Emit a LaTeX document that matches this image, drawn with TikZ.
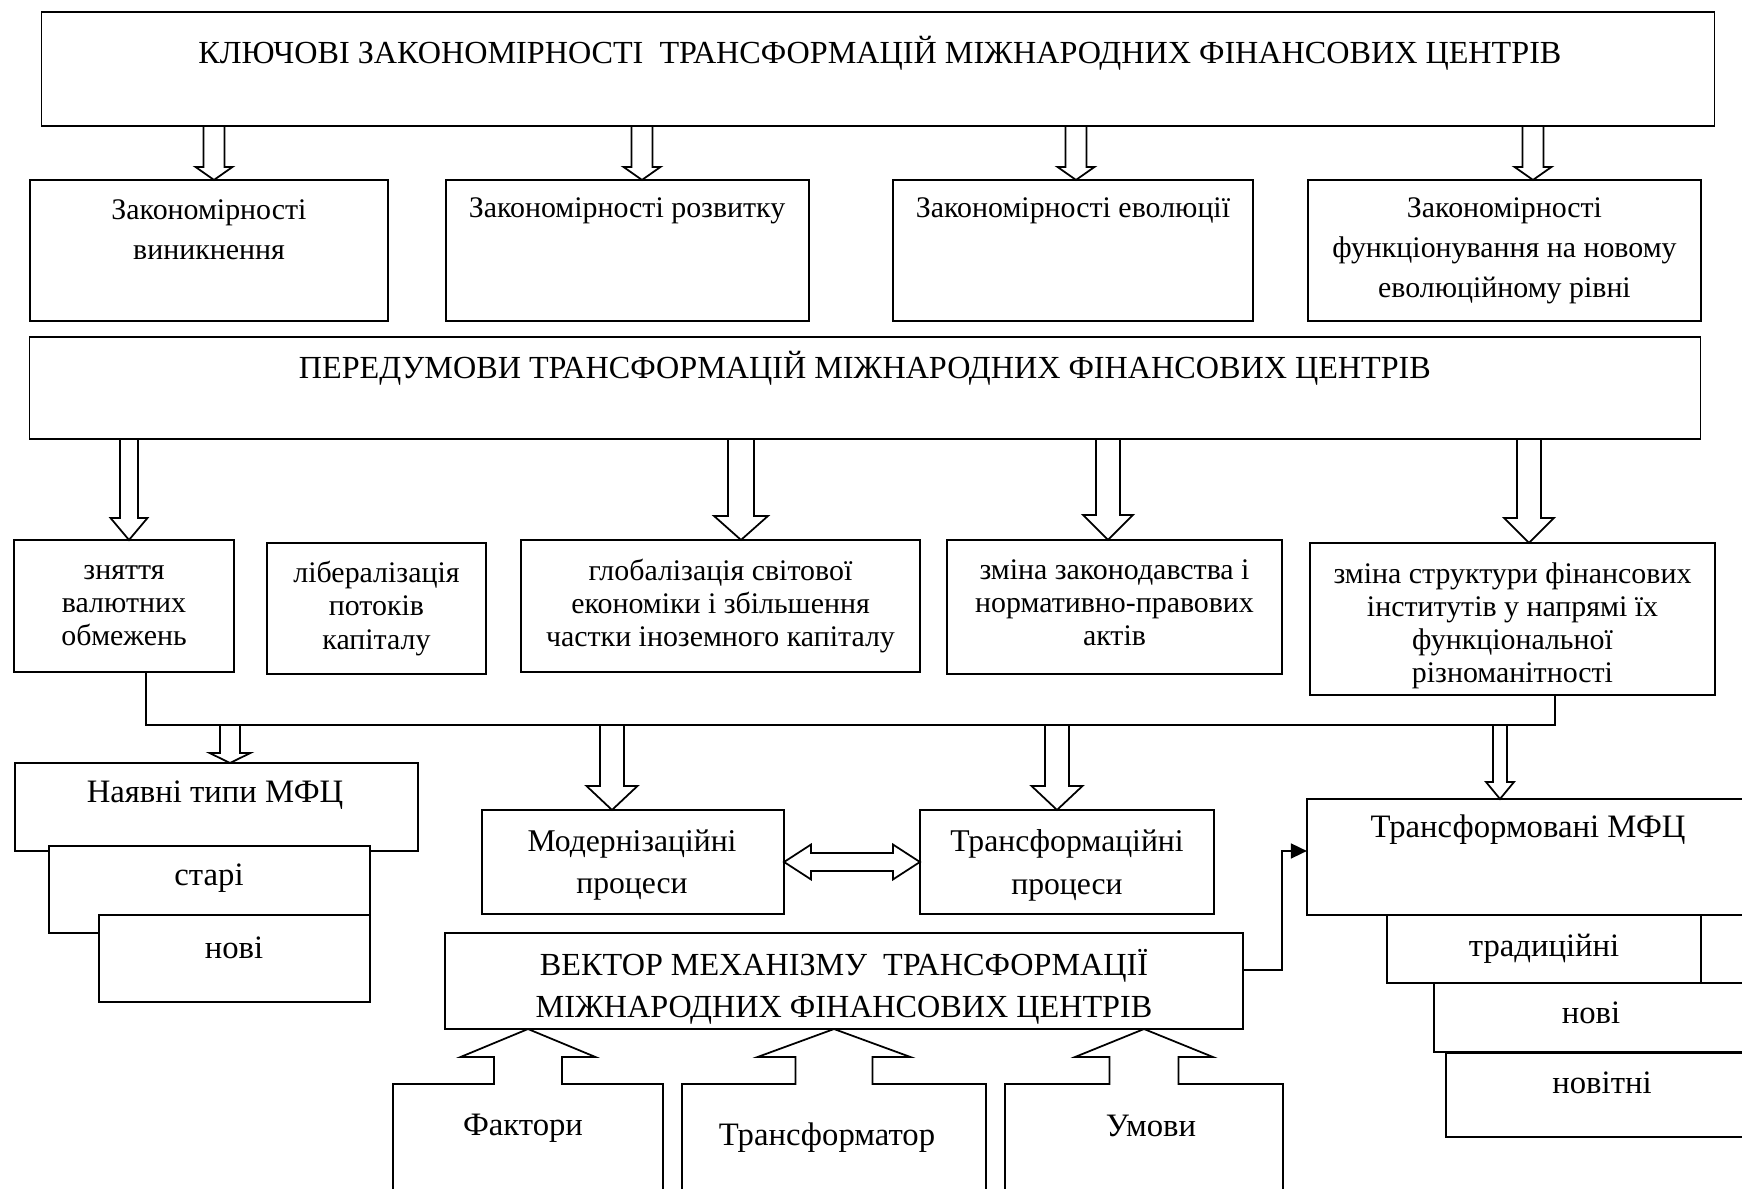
\documentclass[tikz,border=0pt]{standalone}
\usepackage{fontspec}
\setmainfont{Liberation Serif}
\usetikzlibrary{calc,arrows.meta}
\tikzset{
  wire/.style={draw=black, line width=0.5pt},
  box/.style={
    draw=black,
    fill=white,
    line width=0.5pt,
    inner sep=0pt,
    outer sep=0pt,
    align=center,
    font=\fontsize{8.5}{11.4}\selectfont
  },
  rowbox/.style={box, font=\fontsize{8.5}{9.4}\selectfont},
  lbl/.style={inner sep=0pt, align=center, font=\fontsize{8.5}{11.4}\selectfont},
  rowlbl/.style={lbl, font=\fontsize{8.5}{9.4}\selectfont},
  biglbl/.style={lbl, font=\fontsize{9.3}{11}\selectfont},
  headlbl/.style={lbl, font=\fontsize{9.15}{12}\selectfont},
  hollowdown/.style n args={3}{wire, line join=miter, to path={
    ($(\tikztostart)+(-#1,0)$) -- ($(\tikztotarget)+(-#1,-#3)$) -- ($(\tikztotarget)+(-#2,-#3)$)
    -- (\tikztotarget) -- ($(\tikztotarget)+(#2,-#3)$) -- ($(\tikztotarget)+(#1,-#3)$) -- ($(\tikztostart)+(#1,0)$)}},
  hollowup/.style n args={3}{wire, fill=white, line join=miter, to path={
    ($(\tikztostart)+(-#1,1)$) -- ($(\tikztotarget)+(-#1,#3)$) -- ($(\tikztotarget)+(-#2,#3)$)
    -- (\tikztotarget) -- ($(\tikztotarget)+(#2,#3)$) -- ($(\tikztotarget)+(#1,#3)$) -- ($(\tikztostart)+(#1,1)$)}},
  hollowboth/.style n args={3}{wire, line join=miter, to path={
    (\tikztostart) -- ($(\tikztostart)+(#3,-#2)$) -- ($(\tikztostart)+(#3,-#1)$) -- ($(\tikztotarget)+(-#3,-#1)$)
    -- ($(\tikztotarget)+(-#3,-#2)$) -- (\tikztotarget) -- ($(\tikztotarget)+(-#3,#2)$) -- ($(\tikztotarget)+(-#3,#1)$)
    -- ($(\tikztostart)+(#3,#1)$) -- ($(\tikztostart)+(#3,#2)$) -- cycle}}
}

\begin{document}
\begin{tikzpicture}[x=0.01cm, y=-0.01cm]
  \path[use as bounding box, fill=white] (0,0) rectangle (1742,1189);
  \clip (0,0) rectangle (1742,1189);

  % key regularities and their four kinds
  \node[box, minimum width=16.72cm, minimum height=1.14cm] (K) at (878,69) {};
  \node[headlbl] (Kt) at (880,53) {КЛЮЧОВІ ЗАКОНОМІРНОСТІ\ \ ТРАНСФОРМАЦІЙ МІЖНАРОДНИХ ФІНАНСОВИХ ЦЕНТРІВ};

  \node[box, minimum width=3.58cm, minimum height=1.41cm] (Z1) at (209,250.5) {};
  \node[lbl] (Z1t) at (209,230) {Закономірності\\виникнення};
  \node[box, minimum width=3.63cm, minimum height=1.41cm] (Z2) at (627.5,250.5) {};
  \node[lbl] (Z2t) at (627,211) {Закономірності розвитку};
  \node[box, minimum width=3.60cm, minimum height=1.41cm] (Z3) at (1073,250.5) {};
  \node[lbl] (Z3t) at (1073,211) {Закономірності еволюції};
  \node[box, minimum width=3.93cm, minimum height=1.41cm] (Z4) at (1504.5,250.5)
    {Закономірності\\функціонування на новому\\еволюційному рівні};

  \foreach \x in {214,642,1076,1533}
    \draw[hollowdown={10.5}{18.5}{13}] (\x,0 |- K.south) to (\x,0 |- Z1.north);

  % preconditions
  \node[box, minimum width=16.70cm, minimum height=1.02cm] (P) at (865,388) {};
  \node[headlbl] (Pt) at (865,368) {ПЕРЕДУМОВИ ТРАНСФОРМАЦІЙ МІЖНАРОДНИХ ФІНАНСОВИХ ЦЕНТРІВ};

  \node[rowbox, minimum width=2.20cm, minimum height=1.32cm] (A) at (124,606) {зняття\\валютних\\обмежень};
  \node[rowbox, minimum width=2.19cm, minimum height=1.31cm] (B) at (376.5,608.5) {лібералізація\\потоків\\капіталу};
  \node[rowbox, minimum width=3.99cm, minimum height=1.32cm] (C) at (720.5,606)
    {глобалізація світової\\економіки і збільшення\\частки іноземного капіталу};
  \node[box, minimum width=3.35cm, minimum height=1.34cm] (D) at (1114.5,607) {};
  \node[rowlbl] (Dt) at (1114.5,602.5) {зміна законодавства і\\нормативно-правових\\актів};
  \node[box, minimum width=4.05cm, minimum height=1.52cm] (E) at (1512.5,619) {};
  \node[rowlbl] (Et) at (1512.5,626) {зміна структури фінансових\\інститутів у напрямі їх\\функціональної\\різноманітності};

  \draw[hollowdown={9}{18.5}{22}] (129,0 |- P.south) to (129,0 |- A.north);
  \draw[hollowdown={13}{27}{24}] (741,0 |- P.south) to (741,0 |- C.north);
  \draw[hollowdown={12}{25}{25}] (1108,0 |- P.south) to (1108,0 |- D.north);
  \draw[hollowdown={12}{25}{25}] (1529,0 |- P.south) to (1529,0 |- E.north);

  % existing types of IFC
  \node[box, minimum width=4.03cm, minimum height=0.88cm] (N) at (216.5,807) {};
  \node[biglbl] (Nt) at (215,795) {Наявні типи МФЦ};
  \node[box, minimum width=3.21cm, minimum height=0.87cm] (N1) at (209.5,889.5) {};
  \node[biglbl] (N1t) at (209,878) {старі};
  \node[box, minimum width=2.71cm, minimum height=0.87cm] (N2) at (234.5,958.5) {};
  \node[biglbl] (N2t) at (234,948) {нові};

  % processes and the vector
  \node[box, minimum width=3.02cm, minimum height=1.04cm] (M) at (633,862) {};
  \node[lbl, font=\fontsize{9}{12.2}\selectfont] (Mt) at (632,865) {Модернізаційні\\процеси};
  \node[box, minimum width=2.94cm, minimum height=1.04cm] (T) at (1067,862) {};
  \node[lbl, font=\fontsize{9}{12.2}\selectfont] (Tt) at (1067,865) {Трансформаційні\\процеси};
  \draw[hollowboth={9}{17.5}{27}] (M.east) to (T.west);

  \node[box, minimum width=7.98cm, minimum height=0.96cm] (V) at (844,981) {};
  \node[headlbl] (Vt) at (844,987) {ВЕКТОР МЕХАНІЗМУ\ \ ТРАНСФОРМАЦІЇ\\МІЖНАРОДНИХ ФІНАНСОВИХ ЦЕНТРІВ};

  % transformed IFC
  \node[box, minimum width=4.43cm, minimum height=1.16cm] (TM) at (1528.5,857) {};
  \node[biglbl] (TMt) at (1528,830) {Трансформовані МФЦ};
  \node[box, minimum width=3.14cm, minimum height=0.68cm, font=\fontsize{9.3}{11}\selectfont] (TM1) at (1544,949) {традиційні};
  \node[box, minimum width=0.79cm, minimum height=0.68cm] (TMx) at (1740.5,949) {};
  \node[box, minimum width=3.14cm, minimum height=0.69cm] (TM2) at (1591,1017.5) {};
  \node[biglbl] (TM2t) at (1591,1013) {нові};
  \node[box, minimum width=3.12cm, minimum height=0.84cm] (TM3) at (1602,1095) {};
  \node[biglbl] (TM3t) at (1602,1083) {новітні};

  % bus from the preconditions
  \coordinate (bus) at (0,725);
  \draw[wire] (146,0 |- A.south) |- (1555,0 |- bus) -- (1555,0 |- E.south);
  \draw[hollowdown={10}{20.5}{10}] (230,0 |- bus) to (230,0 |- N.north);
  \draw[hollowdown={12}{25.5}{24}] (612,0 |- bus) to (612,0 |- M.north);
  \draw[hollowdown={12}{25.5}{24}] (1057,0 |- bus) to (1057,0 |- T.north);
  \draw[hollowdown={7}{14}{17}] (1500,0 |- bus) to (1500,0 |- TM.north);

  \draw[wire, -{Triangle[length=0.16cm, width=0.15cm]}] ([yshift=0.11cm]V.east) -- ++(39,0) |- ([yshift=0.06cm]TM.west);

  % factors, transformer, conditions
  \node[box, minimum width=2.70cm, minimum height=1.36cm] (F) at (528,1152) {};
  \node[biglbl] (Ft) at (523,1128) {Фактори};
  \node[box, minimum width=3.04cm, minimum height=1.36cm] (TR) at (834,1152) {};
  \node[biglbl] (TRt) at (827,1138) {Трансформатор};
  \node[box, minimum width=2.78cm, minimum height=1.36cm] (U) at (1144,1152) {};
  \node[biglbl] (Ut) at (1151,1126) {Умови};

  \draw[hollowup={34}{67.5}{28}] (F.north) to (F.north |- V.south);
  \draw[hollowup={38.5}{76.5}{28}] (TR.north) to (TR.north |- V.south);
  \draw[hollowup={34.5}{69}{28}] (U.north) to (U.north |- V.south);
\end{tikzpicture}
\end{document}
